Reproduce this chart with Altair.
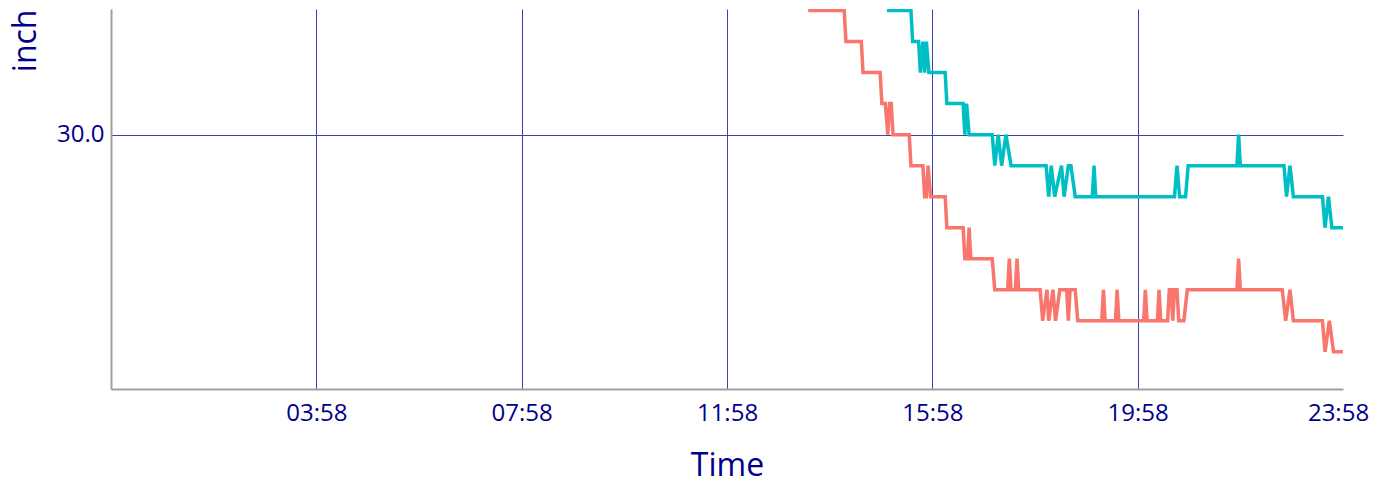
import altair as alt
import pandas as pd

DAY = "2024-01-02"

series_names = ["Station A", "Station B"]
series_colors = ["#F8766D", "#00BFC4"]

red_times = [
    "13:33", "13:35", "13:40", "13:41", "13:42", "13:45", "13:46", "13:47",
    "14:15", "14:17", "14:35", "14:37", "14:57", "14:59",
    "15:03", "15:06", "15:08", "15:10", "15:12", "15:31", "15:33",
    "15:47", "15:49", "15:51", "15:53", "15:56",
    "16:13", "16:15", "16:34", "16:36", "16:39", "16:41", "16:43",
    "17:08", "17:11", "17:26", "17:28", "17:30", "17:35", "17:37", "17:39",
    "18:04", "18:07", "18:12", "18:14", "18:19", "18:22", "18:27", "18:35",
    "18:37", "18:39", "18:45", "18:48",
    "19:16", "19:18", "19:20", "19:32", "19:34", "19:36",
    "20:05", "20:07", "20:09", "20:21", "20:23", "20:25",
    "20:33", "20:35", "20:37", "20:39", "20:41", "20:44", "20:46", "20:52", "20:56",
    "21:54", "21:56", "21:58",
    "22:47", "22:51", "22:56", "23:00",
    "23:34", "23:37", "23:42", "23:47", "23:58",
]
red_values = [
    30.05, 30.04, 30.04, 30.05, 30.04, 30.04, 30.05, 30.04,
    30.04, 30.03, 30.03, 30.02, 30.02, 30.01,
    30.01, 30.00, 30.01, 30.01, 30.00, 30.00, 29.99,
    29.99, 29.98, 29.98, 29.99, 29.98,
    29.98, 29.97, 29.97, 29.96, 29.96, 29.97, 29.96,
    29.96, 29.95, 29.95, 29.96, 29.95, 29.95, 29.96, 29.95,
    29.95, 29.94, 29.95, 29.94, 29.95, 29.94, 29.95, 29.95,
    29.94, 29.95, 29.95, 29.94,
    29.94, 29.95, 29.94, 29.94, 29.95, 29.94,
    29.94, 29.95, 29.94, 29.94, 29.95, 29.94,
    29.94, 29.95, 29.95, 29.94, 29.95, 29.95, 29.94, 29.94, 29.95,
    29.95, 29.96, 29.95,
    29.95, 29.94, 29.95, 29.94,
    29.94, 29.93, 29.94, 29.93, 29.93,
]

teal_times = [
    "15:05", "15:07", "15:11", "15:12", "15:14", "15:33", "15:35",
    "15:42", "15:44", "15:47", "15:49", "15:51", "15:54",
    "16:13", "16:15", "16:34", "16:36", "16:38", "16:41",
    "17:08", "17:11", "17:15", "17:19", "17:24", "17:30",
    "18:11", "18:14", "18:17", "18:21", "18:29", "18:32", "18:37", "18:40", "18:45",
    "19:05", "19:07", "19:09",
    "20:41", "20:44", "20:47", "20:54", "20:57",
    "21:54", "21:56", "21:58",
    "22:49", "22:52", "22:56", "23:00",
    "23:34", "23:37", "23:41", "23:45", "23:58",
]
teal_values = [
    30.05, 30.04, 30.04, 30.05, 30.04, 30.04, 30.03,
    30.03, 30.02, 30.03, 30.02, 30.03, 30.02,
    30.02, 30.01, 30.01, 30.00, 30.01, 30.00,
    30.00, 29.99, 30.00, 29.99, 30.00, 29.99,
    29.99, 29.98, 29.99, 29.98, 29.99, 29.98, 29.99, 29.99, 29.98,
    29.98, 29.99, 29.98,
    29.98, 29.99, 29.98, 29.98, 29.99,
    29.99, 30.00, 29.99,
    29.99, 29.98, 29.99, 29.98,
    29.98, 29.97, 29.98, 29.97, 29.97,
]

x_tick_labels = ["03:58", "07:58", "11:58", "15:58", "19:58", "23:58"]
y_tick_values = [30.0]
y_domain = [29.918, 30.0405]

rows = []
for name, times, vals in [(series_names[0], red_times, red_values),
                          (series_names[1], teal_times, teal_values)]:
    for t, v in zip(times, vals):
        rows.append({"time": f"{DAY}T{t}:00", "value": v, "series": name})
df = pd.DataFrame(rows)

tick_values = [
    alt.DateTime(year=2024, month=1, date=2, hours=int(s[:2]), minutes=int(s[3:]))
    for s in x_tick_labels
]
x_domain = [
    alt.DateTime(year=2024, month=1, date=1, hours=23, minutes=58),
    alt.DateTime(year=2024, month=1, date=2, hours=23, minutes=58),
]

TEXT = "#00008B"
GRID = "#4040b0"
LAST = "hours(datum.value) == 23"

chart = (
    alt.Chart(df)
    .mark_line(clip=True, strokeWidth=3.5)
    .encode(
        x=alt.X(
            "time:T",
            scale=alt.Scale(domain=x_domain),
            axis=alt.Axis(
                values=tick_values,
                format="%H:%M",
                title="Time",
                grid=True,
                gridColor=GRID,
                gridWidth=1,
                gridOpacity=alt.condition(LAST, alt.value(0), alt.value(1)),
                ticks=False,
                tickSize=0,
                labelPadding=12,
                labelFontSize=24,
                labelColor=TEXT,
                labelFont="Open Sans",
                labelOffset=alt.condition(LAST, alt.value(-5), alt.value(0)),
                titleFont="Open Sans",
                titleFontSize=32,
                titleFontWeight="normal",
                titleColor=TEXT,
                titleY=86,
                titleBaseline="alphabetic",
                domainColor="#a0a0a0",
                domainWidth=2,
                labelFlush=False,
            ),
        ),
        y=alt.Y(
            "value:Q",
            scale=alt.Scale(domain=y_domain, nice=False, zero=False),
            axis=alt.Axis(
                values=y_tick_values,
                format=".1f",
                title="inch",
                grid=True,
                gridColor=GRID,
                gridWidth=1,
                ticks=False,
                tickSize=0,
                labelPadding=7,
                labelFontSize=24,
                labelColor=TEXT,
                labelFont="Open Sans",
                titleFont="Open Sans",
                titleFontSize=32,
                titleFontWeight="normal",
                titleColor=TEXT,
                titleAngle=270,
                titleAlign="right",
                titleBaseline="alphabetic",
                titleX=-76,
                titleY=0,
                domainColor="#a0a0a0",
                domainWidth=2,
            ),
        ),
        color=alt.Color(
            "series:N",
            scale=alt.Scale(domain=series_names, range=series_colors),
            legend=None,
        ),
        detail="series:N",
    )
    .properties(
        width=1232,
        height=380,
        autosize=alt.AutoSizeParams(type="none"),
        padding={"left": 103, "top": 1, "right": 27, "bottom": 89},
        background="white",
    )
    .configure_view(stroke=None)
)

chart.save("out.html", embed_options={"renderer": "svg", "actions": False})
